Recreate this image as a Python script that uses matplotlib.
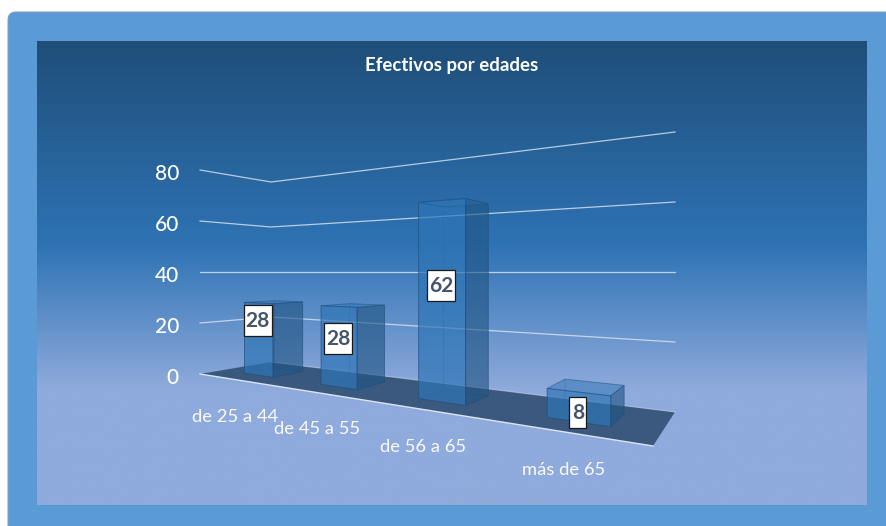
""" Efectivos por edades: 3D look column chart, drawn with a small perspective helper """
import numpy as np
import matplotlib
matplotlib.use("Agg")
from matplotlib import pyplot as plt
from matplotlib.colors import LinearSegmentedColormap
from matplotlib.patches import FancyBboxPatch, Polygon, Rectangle

categories = ["de 25 a 44", "de 45 a 55", "de 56 a 65", "más de 65"]
values = [28, 28, 62, 8]
y_ticks = [0, 20, 40, 60, 80]
title = "Efectivos por edades"

plt.rcParams["font.family"] = ["Lato", "DejaVu Sans"]

W, H = 886, 526
fig = plt.figure(figsize=(W / 100, H / 100), dpi=100)
ax = fig.add_axes([0, 0, 1, 1])
ax.axis("off")

# card and gradient
ax.add_patch(FancyBboxPatch((8, 12), 900, 540, boxstyle="round,pad=0,rounding_size=8",
                            mutation_scale=1, fc="#5b9bd5", ec="#7a9cc0", lw=0.7, zorder=0))
grad = LinearSegmentedColormap.from_list("bg", [(0, "#1f4e79"), (0.44, "#2e73b4"),
                                                (0.75, "#8faadc"), (1, "#8faadc")])
ax.imshow(np.linspace(0, 1, 256)[:, None], cmap=grad, aspect="auto",
          extent=(37, 867, 505.5, 42), zorder=1)
ax.set_xlim(0, W)
ax.set_ylim(H, 0)

# floor corners on screen, eye level and value at eye level
FL, FR, BR, BL = (200, 374), (653, 446), (675, 412), (271, 362)
EYE_Y = 272
EYE_VAL = 40


def homography(quad):
    src = [(0, 0), (1, 0), (1, 1), (0, 1)]
    A, b = [], []
    for (u, v), (x, y) in zip(src, quad):
        A.append([u, v, 1, 0, 0, 0, -u * x, -v * x])
        A.append([0, 0, 0, u, v, 1, -u * y, -v * y])
        b += [x, y]
    return np.append(np.linalg.solve(np.array(A, float), np.array(b, float)), 1).reshape(3, 3)


M = homography([FL, FR, BR, BL])


def project(u, v, h):
    # u along categories, v depth, h value
    p = M @ np.array([u, v, 1.0])
    x, y = p[0] / p[2], p[1] / p[2]
    return x, EYE_Y + (y - EYE_Y) * (EYE_VAL - h) / EYE_VAL


# walls grid and value labels
for t in y_ticks:
    if t > 0:
        pts = [project(0, 0, t), project(0, 1, t), project(1, 1, t)]
        ax.plot(*zip(*pts), color="#dce6f2", lw=0.9, alpha=0.8, zorder=2)
    ax.text(179, project(0, 0, t)[1] + 4, str(t), color="white", fontsize=15, fontweight="medium",
            ha="right", va="center", zorder=8)

# floor
ax.add_patch(Polygon([FL, BL, BR, FR], closed=True, fc="#264568", alpha=0.8, ec="none", zorder=2))
ax.plot([FL[0], FR[0]], [FL[1], FR[1]], color="#dce6f2", lw=1, zorder=2)
ax.plot([BL[0], BR[0]], [BL[1], BR[1]], color="#dce6f2", lw=0.8, alpha=0.5, zorder=2)

# bars, faint inner edges first
n = len(values)
bar_frac = 0.4
u_shift = 0.005
v0, v1 = 0.3, 0.73
edge = "#1f4e79"
label_shift = [-19, -8, -16, 5]
for i, val in enumerate(values):
    u0 = (i + 0.5 - bar_frac / 2) / n + u_shift
    u1 = (i + 0.5 + bar_frac / 2) / n + u_shift
    corners = [(u0, v0), (u1, v0), (u1, v1), (u0, v1)]
    a0, b0, c0, d0 = [project(u, v, 0) for u, v in corners]
    a1, b1, c1, d1 = [project(u, v, val) for u, v in corners]
    for face in ([d0, c0, c1, d1], [a0, d0, d1, a1], [a0, b0, c0, d0]):
        ax.add_patch(Polygon(face, closed=True, fc="#2e75b6", alpha=0.25, ec=edge, lw=0.4, zorder=3))
    ax.add_patch(Polygon([a0, b0, b1, a1], closed=True, fc="#2e75b6", alpha=0.6, ec=edge, lw=0.7, zorder=4))
    ax.add_patch(Polygon([b0, c0, c1, b1], closed=True, fc="#1f4e79", alpha=0.5, ec=edge, lw=0.7, zorder=4))
    ax.add_patch(Polygon([a1, b1, c1, d1], closed=True, fc="#2e75b6", alpha=0.35, ec=edge, lw=0.7, zorder=4))
    lx = (a0[0] + b0[0]) / 2 - 1
    ly = (a0[1] + b0[1] + a1[1] + b1[1]) / 4 + label_shift[i]
    text = str(val)
    box_w = 6 + 11 * len(text)
    ax.add_patch(Rectangle((lx - box_w / 2, ly - 15.5), box_w, 31, fc="white", ec="#1a1a1a", lw=0.9, zorder=6))
    ax.text(lx, ly + 0.5, text, color="#44546a", fontsize=15, fontweight="bold", ha="center", va="center", zorder=7)

# category labels
cat_pos = [(235, 417), (317, 429), (423, 447), (564, 470)]
for name, (x, y) in zip(categories, cat_pos):
    ax.text(x, y, name, color="white", fontsize=13.2, alpha=0.95, ha="center", va="center", zorder=8)

ax.text(452, 65.5, title, color="white", fontsize=13.4, fontweight="bold", ha="center", va="center", zorder=8)

fig.savefig("out.png", dpi=100)
